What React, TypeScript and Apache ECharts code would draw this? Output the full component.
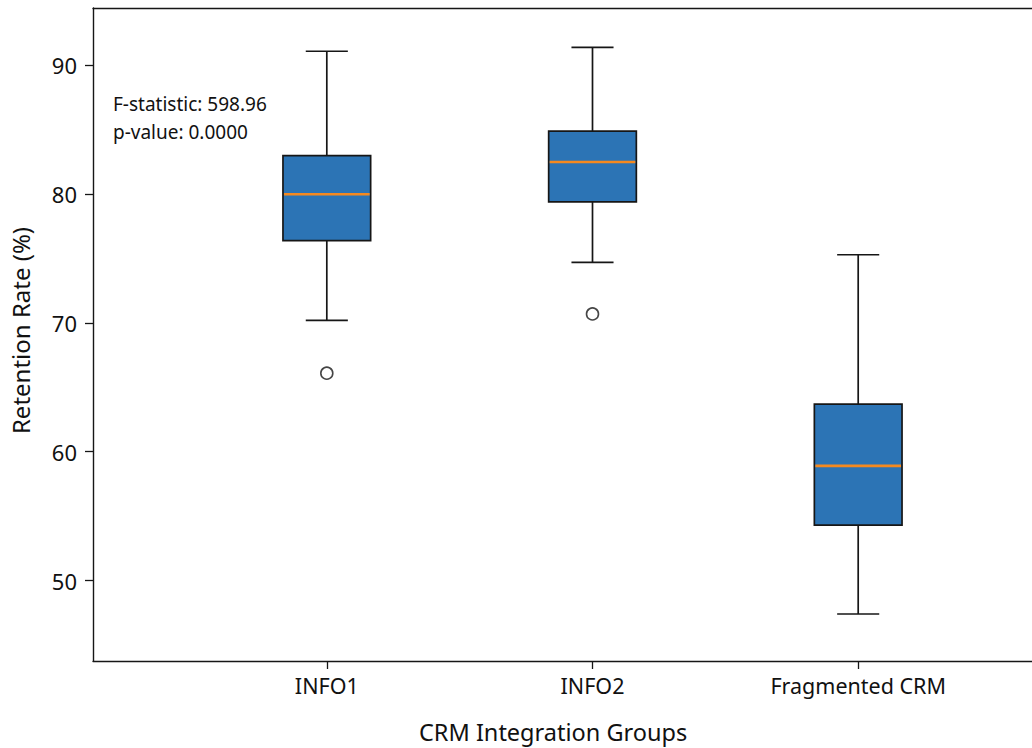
import React, { useEffect, useRef } from "react";
import * as echarts from "echarts";

// ---- data ----
const groups = ["INFO1", "INFO2", "Fragmented CRM"];
const positions = [1, 2, 3];
const whiskerLow = [70.2, 74.7, 47.4];
const q1 = [76.4, 79.4, 54.3];
const median = [80.0, 82.5, 58.9];
const q3 = [83.0, 84.9, 63.7];
const whiskerHigh = [91.1, 91.4, 75.3];
const outlierGroup = [1, 2];
const outlierValue = [66.1, 70.7];
const yTicks = [50, 60, 70, 80, 90];
const statLines = ["F-statistic: 598.96", "p-value: 0.0000"];

const FONT = "Noto Sans";
const BOX_W = 0.33; // box width in axis units
const INK = "#161616";
const X_MIN = 0.12;
const X_MAX = 3.88;

export default function App() {
  const ref = useRef<HTMLDivElement>(null);

  useEffect(() => {
    if (!ref.current) return;
    const chart = echarts.init(ref.current, undefined, { renderer: "svg" });

    const boxData = positions.map((p, i) => [p, whiskerLow[i], q1[i], median[i], q3[i], whiskerHigh[i]]);
    const outData = outlierGroup.map((g, i) => [g, outlierValue[i]]);
    const spine = { show: true, onZero: false, lineStyle: { color: INK, width: 1.4 } };

    const option: any = {
      animation: false,
      backgroundColor: "#ffffff",
      textStyle: { fontFamily: FONT },
      grid: { left: 93, top: 8, right: 8, bottom: 87 },
      xAxis: [
        {
          type: "value",
          min: X_MIN,
          max: X_MAX,
          splitLine: { show: false },
          axisLine: spine,
          axisTick: { show: true, length: 8, lineStyle: { color: INK, width: 1.3 }, customValues: positions },
          axisLabel: {
            show: true,
            customValues: positions,
            margin: 13,
            fontSize: 21.5,
            color: "#111",
            fontFamily: FONT,
            formatter: (v: number) => groups[positions.indexOf(Math.round(v))] ?? "",
          },
        },
        {
          type: "value",
          position: "top",
          min: X_MIN,
          max: X_MAX,
          splitLine: { show: false },
          axisLine: spine,
          axisTick: { show: false },
          axisLabel: { show: false },
        },
      ],
      yAxis: {
        type: "value",
        min: 43.75,
        max: 94.46,
        splitLine: { show: false },
        axisLine: spine,
        axisTick: { show: true, length: 8, lineStyle: { color: INK, width: 1.3 }, customValues: yTicks },
        axisLabel: {
          show: true,
          customValues: yTicks,
          margin: 16,
          fontSize: 22,
          color: "#111",
          fontFamily: FONT,
        },
        name: "Retention Rate (%)",
        nameLocation: "middle",
        nameGap: 61,
        nameTextStyle: { fontSize: 24, color: "#111", fontFamily: FONT, padding: [0, 0, 0, 8] },
      },
      graphic: [
        {
          type: "text",
          left: 113,
          top: 94,
          style: { text: statLines[0], fontSize: 19, fontFamily: FONT, fill: "#111" },
        },
        {
          type: "text",
          left: 113,
          top: 122,
          style: { text: statLines[1], fontSize: 19, fontFamily: FONT, fill: "#111" },
        },
        {
          type: "text",
          left: 419,
          top: 720,
          style: { text: "CRM Integration Groups", fontSize: 23.5, fontFamily: FONT, fill: "#111" },
        },
      ],
      series: [
        {
          type: "custom",
          xAxisIndex: 0,
          data: boxData,
          encode: { x: 0, y: [1, 2, 3, 4, 5] },
          renderItem: (params: any, api: any) => {
            const x = api.value(0);
            const pLo = api.coord([x, api.value(1)]);
            const pQ1 = api.coord([x, api.value(2)]);
            const pMed = api.coord([x, api.value(3)]);
            const pQ3 = api.coord([x, api.value(4)]);
            const pHi = api.coord([x, api.value(5)]);
            const bw = api.size([BOX_W, 0])[0];
            const cx = pLo[0];
            const half = bw / 2;
            const cap = bw * 0.24;
            const ls = { stroke: INK, lineWidth: 1.7 };
            return {
              type: "group",
              children: [
                { type: "line", shape: { x1: cx, y1: pHi[1], x2: cx, y2: pQ3[1] }, style: ls },
                { type: "line", shape: { x1: cx, y1: pQ1[1], x2: cx, y2: pLo[1] }, style: ls },
                { type: "line", shape: { x1: cx - cap, y1: pHi[1], x2: cx + cap, y2: pHi[1] }, style: ls },
                { type: "line", shape: { x1: cx - cap, y1: pLo[1], x2: cx + cap, y2: pLo[1] }, style: ls },
                {
                  type: "rect",
                  shape: { x: cx - half, y: pQ3[1], width: bw, height: pQ1[1] - pQ3[1] },
                  style: { fill: "#2c74b5", stroke: INK, lineWidth: 1.7 },
                },
                {
                  type: "line",
                  shape: { x1: cx - half + 1, y1: pMed[1], x2: cx + half - 1, y2: pMed[1] },
                  style: { stroke: "#f5891f", lineWidth: 2.6 },
                },
              ],
            };
          },
        },
        {
          type: "scatter",
          xAxisIndex: 0,
          data: outData,
          symbol: "circle",
          symbolSize: 12,
          itemStyle: { color: "#ffffff", borderColor: INK, borderWidth: 1.6 },
        },
      ],
    };

    chart.setOption(option);
    return () => chart.dispose();
  }, []);

  return (
    <div style={{ position: "absolute", left: 0, top: 0, width: 1032, height: 748, overflow: "hidden" }}>
      <div ref={ref} style={{ width: 1100, height: 748 }} />
    </div>
  );
}
